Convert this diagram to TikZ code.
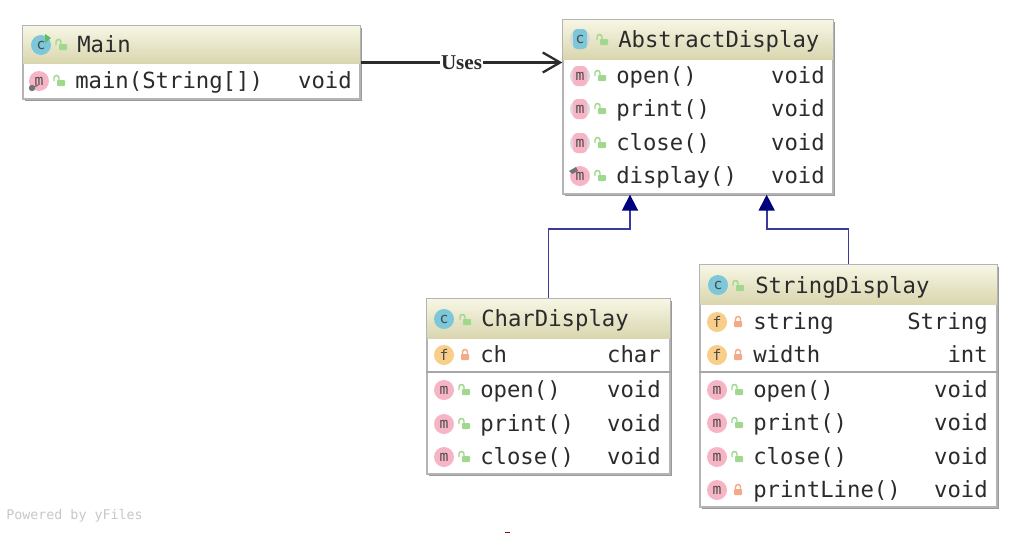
\documentclass[tikz,border=0pt]{standalone}
\usepackage{fontspec}
\setmonofont{DejaVu Sans Mono}
\newfontfamily\usesfont{Liberation Serif}
\usetikzlibrary{arrows.meta,fit,shadows}

\definecolor{textdark}{HTML}{2B2B2B}
\definecolor{boxline}{HTML}{B4B4B4}
\definecolor{headtop}{HTML}{F7F6E4}
\definecolor{headbottom}{HTML}{D9D6AF}
\definecolor{iconc}{HTML}{7CC8DA}
\definecolor{iconm}{HTML}{F7B4C5}
\definecolor{iconf}{HTML}{F8CE88}
\definecolor{lockgreen}{HTML}{A0D98E}
\definecolor{lockred}{HTML}{F6A988}
\definecolor{playgreen}{HTML}{5DBB63}
\definecolor{inheritline}{HTML}{3A3A9E}
\definecolor{inherittip}{HTML}{00007F}

\tikzset{
  classbox/.style={draw=boxline, line width=1pt, fill=white, inner sep=0pt,
    drop shadow={shadow xshift=1.5pt, shadow yshift=-1.5pt, fill=black!40, opacity=1}},
  headbar/.style={top color=headtop, bottom color=headbottom, inner sep=0pt},
  title/.style={font=\fontsize{16.7}{20}\selectfont\ttfamily, text=textdark, anchor=base west, inner sep=0pt},
  member/.style={title},
  typename/.style={title, anchor=base east},
  icon/.style={circle, minimum size=15pt, inner sep=0pt, text=black!70,
    font=\fontsize{11}{11}\selectfont\ttfamily},
  ciconstyle/.style={icon, fill=iconc},
  miconstyle/.style={icon, fill=iconm},
  ficonstyle/.style={icon, fill=iconf},
  absring/.style={fill=black!15},
  absm/.style={icon, rectangle, rounded corners=3pt, minimum width=10.5pt, minimum height=15pt, fill=iconm},
  absc/.style={icon, rectangle, rounded corners=3pt, minimum width=10.5pt, minimum height=15pt, fill=iconc},
  sepline/.style={draw=black!35, line width=1.3pt},
  uses/.style={draw=textdark, line width=1.7pt, -{Straight Barb[length=13pt, width=15pt, line width=1.7pt]}},
  inherit/.style={draw=inheritline, line width=1.3pt, -{Triangle[length=12pt, width=12pt, fill=inherittip, color=inherittip]}},
  lockopen/.pic={
    \fill[lockgreen, rounded corners=.6pt] (-3,-1) rectangle (5,5);
    \draw[lockgreen, line width=1.1pt] (-6,0) -- (-6,-3) arc [start angle=180, end angle=360, radius=2.5] -- (-1,-1);
  },
  lockclosed/.pic={
    \fill[lockred, rounded corners=.6pt] (-4,-1) rectangle (4,5);
    \draw[lockred, line width=1.1pt] (-2.5,-1) -- (-2.5,-3) arc [start angle=180, end angle=360, radius=2.5] -- (2.5,-1);
  },
}

% name, left, top, right, bottom, bottom of the title bar
\newcommand{\umlbox}[6]{
  \coordinate (#1nw) at (#2,#3);
  \coordinate (#1se) at (#4,#5);
  \coordinate (#1he) at (#4,#6);
  \node[classbox, fit=(#1nw)(#1se)] (#1) {};
  \node[headbar, fit=(#1nw)(#1he)] (#1bar) {};
  \draw[boxline, line width=1pt] (#1.north west) rectangle (#1.south east);
}
% name, left, right, y, icon style, letter, lock, label, type
\newcommand{\memberrow}[9]{
  \node[#5] (#1icon) at (#2+17,#4) {#6};
  \pic at (#2+38,#4) {#7};
  \node[member] (#1text) at (#2+53,#4+7) {#8};
  \node[typename] (#1type) at (#3-8,#4+7) {#9};
}

\begin{document}
\begin{tikzpicture}[x=0.75pt, y=-0.75pt]
  \useasboundingbox (0,0) rectangle (1020,533);

  % Main
  \umlbox{main}{23}{26}{360}{99}{63}
  \node[ciconstyle] (mainc) at (41,45) {c};
  \fill[playgreen] (45,34) -- (51,38) -- (45,43) -- cycle;
  \pic at (62,45) {lockopen};
  \node[title] (maintitle) at (77,52) {Main};
  \memberrow{mainrow}{22}{360}{81}{miconstyle}{m}{lockopen}{main(String[])}{void}
  \fill[black!55] (32,88) circle (3.2);
  \draw[black!55, line width=1pt] (32,88) -- (38,85);

  % AbstractDisplay
  \umlbox{abstract}{563}{20}{833}{194}{59}
  \fill[absring] (580,39) circle (10);
  \node[absc] (abstractc) at (580,39) {c};
  \pic at (603,40) {lockopen};
  \node[title] (abstracttitle) at (618,47) {AbstractDisplay};
  \foreach \nm/\y/\lbl in {a/76/open(), b/109/print(), c/143/close()} {
    \fill[absring] (580,\y) circle (10);
    \memberrow{abstract\nm}{563}{833}{\y}{absm}{m}{lockopen}{\lbl}{void}
  }
  \memberrow{abstractd}{563}{833}{176}{miconstyle}{m}{lockopen}{display()}{void}
  \fill[black!55] (569,171) -- (576,167) -- (578,171) -- (572,174) -- cycle;

  % CharDisplay
  \umlbox{chardisplay}{427}{299}{670}{474}{338}
  \node[ciconstyle] (charc) at (444,319) {c};
  \pic at (466,320) {lockopen};
  \node[title] (chartitle) at (481,326) {CharDisplay};
  \memberrow{charf}{427}{669}{355}{ficonstyle}{f}{lockclosed}{ch}{char}
  \draw[sepline] (chardisplay.west |- 0,372) -- (chardisplay.east |- 0,372);
  \foreach \nm/\y/\lbl in {a/390/open(), b/424/print(), c/457/close()} {
    \memberrow{char\nm}{427}{669}{\y}{miconstyle}{m}{lockopen}{\lbl}{void}
  }

  % StringDisplay
  \umlbox{stringdisplay}{700}{265}{997}{507}{304}
  \node[ciconstyle] (stringc) at (718,285) {c};
  \pic at (739,286) {lockopen};
  \node[title] (stringtitle) at (755,293) {StringDisplay};
  \memberrow{stringf}{700}{996}{322}{ficonstyle}{f}{lockclosed}{string}{String}
  \memberrow{stringg}{700}{996}{355}{ficonstyle}{f}{lockclosed}{width}{int}
  \draw[sepline] (stringdisplay.west |- 0,372) -- (stringdisplay.east |- 0,372);
  \foreach \nm/\y/\lbl in {a/390/open(), b/423/print(), c/457/close()} {
    \memberrow{string\nm}{700}{996}{\y}{miconstyle}{m}{lockopen}{\lbl}{void}
  }
  \memberrow{stringd}{700}{996}{490}{miconstyle}{m}{lockclosed}{printLine()}{void}

  % connectors
  \draw[uses] (main.east) -- (main.east -| abstract.west)
    node [midway, fill=white, inner sep=1pt, text=textdark, font=\usesfont\bfseries\fontsize{15.8}{18}\selectfont] (useslabel) {Uses};
  \draw[inherit] (chardisplay.north) -- ++(0,-69) -| ([xshift=-51pt]abstract.south);
  \draw[inherit] (stringdisplay.north) -- ++(0,-35) -| ([xshift=51.5pt]abstract.south);

  \node[anchor=base west, inner sep=0pt, text=black!22, font=\fontsize{10}{12}\selectfont\ttfamily] (powered) at (6,519) {Powered by yFiles};
  \fill[red!60!black] (505,531.5) rectangle (510,533);
\end{tikzpicture}
\end{document}
